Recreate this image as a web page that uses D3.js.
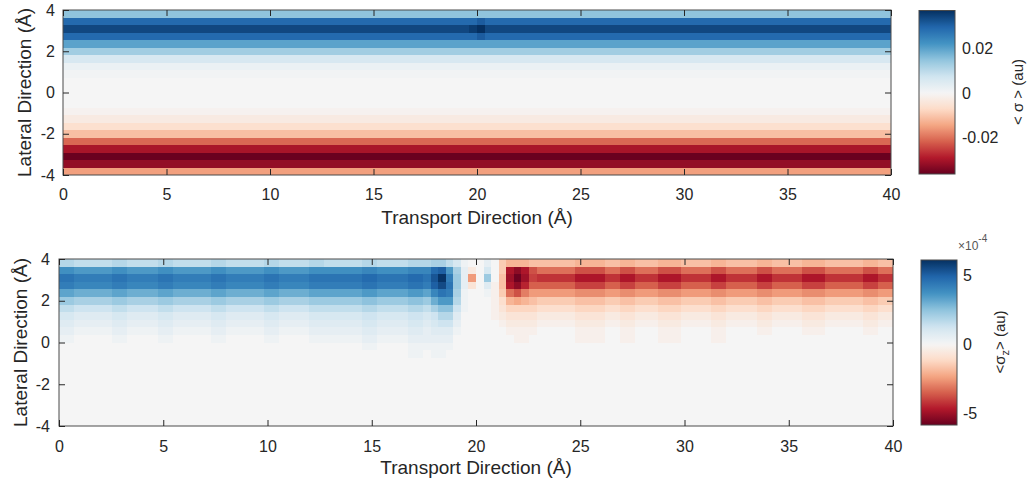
<!DOCTYPE html>
<html>
<head>
<meta charset="utf-8">
<script src="https://cdn.jsdelivr.net/npm/d3@7"></script>
<style>
  body { margin: 0; background: #fff; }
  svg { font-family: 'Liberation Sans', Arial, Helvetica, sans-serif; }
  .tick text { fill: #262626; font-size: 16px; }
  .tick line { stroke: #262626; }
  .axis-labels { fill: #262626; font-size: 19px; }
  .cb-label { fill: #262626; font-size: 15px; }
</style>
</head>
<body>
<svg id="chart" width="1027" height="483"></svg>
<script>
// Axis ticks
const xTicks = [0, 5, 10, 15, 20, 25, 30, 35, 40];
const yTicks = [-4, -2, 0, 2, 4];

// Both maps are 110 x 22 cells over 40 x 8 Angstrom
const nCols = 110;
const nRows = 22;

// RdBu, red for negative, blue for positive
const rdbuColors = ['#67001f', '#b2182b', '#d6604d', '#f4a582', '#fddbc7', '#f5f5f5',
  '#d1e5f0', '#92c5de', '#4393c3', '#2166ac', '#053061'];

// Top map: <sigma> per row (top row first), nearly constant along x
const sigmaRows = [
  0.015, 0.029, 0.034, 0.029, 0.020, 0.013, 0.006, 0.002, 0.0008, 0, 0,
  0, 0, -0.001, -0.003, -0.006, -0.011, -0.021, -0.030, -0.036, -0.032, -0.015,
];
// the few cells that differ from their row
const sigmaSpots = [
  { col: 54, row: 2, value: 0.0355 },
  { col: 55, row: 2, value: 0.0371 },
  { col: 55, row: 1, value: 0.031 },
  { col: 55, row: 3, value: 0.031 },
];
const sigmaRange = [-0.0363, 0.0371];
const sigmaTicks = [-0.02, 0, 0.02];

// Bottom map: <sigma_z> in units of 1e-4, one char per cell, step 0.25
// 'a'..'x' = -0.25..-6, '0' = 0, 'A'..'X' = 0.25..6
// cells past the end of a string, and rows below these, are 0
const sigmaZLevels = 'xwvutsrqponmlkjihgfedcba0ABCDEFGHIJKLMNOPQRSTUVWX';
const sigmaZRows = [
  'GGFFFFFGGFFFFGGFFFFFGGFFFFFGGFFFFGGFFFFFGGFFFFGGGHHFDA00B0fhhhgggggghhhhgghhggghhhgggghhgggghhgggghhhggggghhgg',
  'OONNNNNOONNNNOONNNNNOONNNNNOONNNNOOOOOOOPPOOOOPPPSTNHBb0D0fsusommmmmoooommoommmooommmmoommmmoommmmooommmmmoomm',
  'RRQQQQQRRQQQQRRQQQQQRRQQQQQRRQQQQRRRRRRRSSRRRRSSRUXQIBj0I0gtwtpqqqqqssssqqssqqqsssqqqqssqqqqssqqqqsssqqqqqssqq',
  'QQPPPPPQQPPPPQQPPPPPQQPPPPPQQPPPPQQQQQQQRRQQQQRRQTVRIBc0Cagsurnnnnnnppppnnppnnnpppnnnnppnnnnppnnnnpppnnnnnppnn',
  'MMLLLLLMMLLLLMMLLLLLMMLLLLLMMLLLLMMMMMMMNNMMMMNNMPRQHA00Aafmoljjjjjjkkkkjjkkjjjkkkjjjjkkjjjjkkjjjjkkkjjjjjkkjj',
  'IIHHHHHIIHHHHIIHHHHHIIHHHHHIIHHHHIIIIIIIJJIIIIJJILNNGA000adhihgfffffggggffggfffgggffffggffffggffffgggfffffggff',
  'FFEEEEEFFEEEEFFEEEEEFFEEEEEFFEEEEFFFFFFFGGFFFFGGFHJJEA000aceeeedddddeeeeddeedddeeeddddeeddddeeddddeeedddddeedd',
  'DDCCCCCDDCCCCDDCCCCCDDCCCCCDDCCCCDDDDDDDEEDDDDEEDEGGC0000abccccbbbbbccccbbccbbbcccbbbbccbbbbccbbbbcccbbbbbccbb',
  'CCBBBBBCCBBBBCCBBBBBCCBBBBBCCBBBBCCCCCCCDDCCCCDDCDEEB00000abbbbaaaaabbbbaabbaaabbbaaaabbaaaabbaaaabbbaaaaabbaa',
  'BBAAAAABBAAAABBAAAAABBAAAAABBAAAABBBBBBBCCBBBBCCBCCCA000000aaaa00000aaaa00aa000aaa0000aa0000aa0000aaa00000aa00',
  'AA00000AA0000AA00000AA00000AA0000AAAAAAABBAAAABBBBBB00000000aa000000aaaa00aa000aaa0000aa',
  '0000000000000000000000000000000000000000AA0000AAAAAA0',
  '0000000000000000000000000000000000000000000000AA0AA',
];
const sigmaZRange = [-5.84, 6.09];
const sigmaZTicks = [-5, 0, 5];

const sigmaCells = [];
for (let r = 0; r < nRows; r += 1) {
  for (let c = 0; c < nCols; c += 1) {
    const spot = sigmaSpots.find(s => s.row === r && s.col === c);
    sigmaCells.push({ row: r, col: c, value: spot ? spot.value : sigmaRows[r] });
  }
}

const sigmaZCells = [];
for (let r = 0; r < nRows; r += 1) {
  const line = sigmaZRows[r] || '';
  for (let c = 0; c < nCols; c += 1) {
    const ch = line[c] || '0';
    sigmaZCells.push({ row: r, col: c, value: (sigmaZLevels.indexOf(ch) - 24) * 0.25 });
  }
}

const svg = d3.select('#chart');
const defs = svg.append('defs');
const rdbu = d3.piecewise(d3.interpolateRgb, rdbuColors);

function drawPanel(p) {
  const g = svg.append('g');

  const x = d3.scaleLinear().domain([0, 40]).range([p.left, p.right]);
  const y = d3.scaleLinear().domain([-4, 4]).range([p.bottom, p.top]);
  const color = d3.scaleDiverging(rdbu).domain([p.range[0], 0, p.range[1]]);
  const cw = 40 / nCols;
  const chh = 8 / nRows;

  g.append('g')
    .attr('shape-rendering', 'crispEdges')
    .selectAll('rect')
    .data(p.cells)
    .enter().append('rect')
    .attr('x', d => x(d.col * cw))
    .attr('y', d => y(4 - (d.row * chh)))
    .attr('width', d => x((d.col + 1) * cw) - x(d.col * cw))
    .attr('height', d => y(4 - ((d.row + 1) * chh)) - y(4 - (d.row * chh)))
    .attr('fill', d => color(d.value));

  // box
  g.append('rect')
    .attr('x', p.left)
    .attr('y', p.top)
    .attr('width', p.right - p.left)
    .attr('height', p.bottom - p.top)
    .attr('fill', 'none')
    .attr('stroke', '#4a4a4a')
    .attr('stroke-width', 1);

  // ticks point inwards on all four sides
  g.append('g')
    .attr('transform', `translate(0, ${p.bottom})`)
    .call(d3.axisBottom(x).tickValues(xTicks).tickSize(-6).tickPadding(p.xPad).tickFormat(String))
    .call(a => a.select('.domain').remove());

  g.append('g')
    .attr('transform', `translate(0, ${p.top})`)
    .call(d3.axisTop(x).tickValues(xTicks).tickSize(-6).tickFormat(''))
    .call(a => a.select('.domain').remove());

  g.append('g')
    .attr('transform', `translate(${p.left}, 0)`)
    .call(d3.axisLeft(y).tickValues(yTicks).tickSize(-6).tickPadding(p.yPad).tickFormat(String))
    .call(a => a.select('.domain').remove());

  g.append('g')
    .attr('transform', `translate(${p.right}, 0)`)
    .call(d3.axisRight(y).tickValues(yTicks).tickSize(-6).tickFormat(''))
    .call(a => a.select('.domain').remove());

  g.selectAll('.tick text').attr('font-family', null).attr('font-size', null);

  g.append('text')
    .attr('class', 'axis-labels')
    .attr('x', (p.left + p.right) / 2)
    .attr('y', p.xLabelY)
    .style('text-anchor', 'middle')
    .text('Transport Direction (Å)');

  g.append('text')
    .attr('class', 'axis-labels')
    .attr('transform', `translate(${p.yLabelX}, ${(p.top + p.bottom) / 2}) rotate(-90)`)
    .attr('dy', '0.35em')
    .style('text-anchor', 'middle')
    .text('Lateral Direction (Å)');

  // colorbar, gradient built from the same colour scale
  const cb = p.cb;
  const cy = d3.scaleLinear().domain(p.range).range([cb.bottom, cb.top]);
  const grad = defs.append('linearGradient')
    .attr('id', p.id)
    .attr('x1', 0).attr('y1', 1)
    .attr('x2', 0).attr('y2', 0);
  d3.range(0, 61).forEach((i) => {
    const v = p.range[0] + ((p.range[1] - p.range[0]) * i) / 60;
    grad.append('stop')
      .attr('offset', `${(i / 60) * 100}%`)
      .attr('stop-color', color(v));
  });

  g.append('rect')
    .attr('x', cb.x)
    .attr('y', cb.top)
    .attr('width', cb.w)
    .attr('height', cb.bottom - cb.top)
    .attr('fill', `url(#${p.id})`)
    .attr('stroke', '#4a4a4a')
    .attr('stroke-width', 1);

  g.append('g')
    .attr('transform', `translate(${cb.x + cb.w}, 0)`)
    .call(d3.axisRight(cy).tickValues(p.ticks).tickSize(0).tickPadding(cb.pad).tickFormat(String))
    .call(a => a.select('.domain').remove())
    .selectAll('text')
    .attr('font-family', null)
    .attr('font-size', null);

  return g;
}

const topPanel = drawPanel({
  id: 'cb-sigma',
  cells: sigmaCells,
  range: sigmaRange,
  ticks: sigmaTicks,
  left: 63,
  right: 891,
  top: 10,
  bottom: 175,
  xPad: 14,
  yPad: 8,
  xLabelY: 224,
  yLabelX: 24,
  cb: { x: 919, w: 36, top: 10.5, bottom: 174, pad: 7 },
});

topPanel.append('text')
  .attr('class', 'cb-label')
  .attr('transform', 'translate(1018, 92) rotate(-90)')
  .attr('dy', '0.35em')
  .style('text-anchor', 'middle')
  .text('< σ > (au)');

const bottomPanel = drawPanel({
  id: 'cb-sigmaz',
  cells: sigmaZCells,
  range: sigmaZRange,
  ticks: sigmaZTicks,
  left: 59,
  right: 893,
  top: 259,
  bottom: 426,
  xPad: 15,
  yPad: 9,
  xLabelY: 474,
  yLabelX: 20,
  cb: { x: 921, w: 36, top: 260, bottom: 425, pad: 6 },
});

const zLabel = bottomPanel.append('text')
  .attr('class', 'cb-label')
  .attr('transform', 'translate(1000, 342) rotate(-90)')
  .attr('dy', '0.35em')
  .style('text-anchor', 'middle');
zLabel.append('tspan').text('<σ');
zLabel.append('tspan').attr('dy', 4).attr('font-size', 11).text('z');
zLabel.append('tspan').attr('dy', -4).text('> (au)');

const expo = bottomPanel.append('text')
  .attr('x', 958)
  .attr('y', 249.5)
  .attr('fill', '#555')
  .attr('font-size', 12);
expo.append('tspan').text('×10');
expo.append('tspan').attr('dy', -8).attr('font-size', 10).text('-4');

const badRows = sigmaZRows
  .map((s, i) => (s.length > nCols ? i : -1))
  .filter(i => i >= 0);
if (badRows.length) throw new Error(`sigma_z rows too long: ${badRows.join(', ')}`);
</script>
</body>
</html>
